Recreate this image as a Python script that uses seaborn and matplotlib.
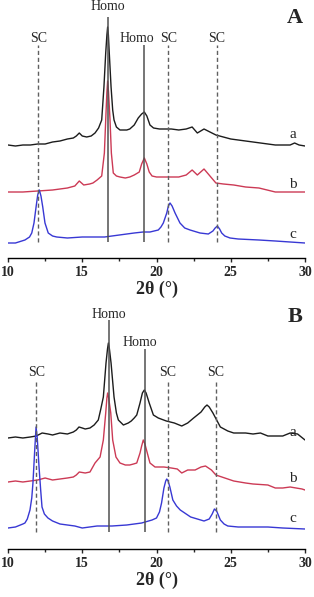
import numpy as np
import matplotlib
matplotlib.use('Agg')
import matplotlib.pyplot as plt
from matplotlib.ticker import MultipleLocator
import seaborn as sns

# ---- panel A: 2theta / intensity (a.u.) ----
A_a_x = [10.0, 10.5, 11.0, 11.5, 12.0, 12.5, 13.0, 13.5, 14.0, 14.4, 14.6, 14.8, 15.0, 15.3,
         15.6, 15.86, 16.1, 16.31, 16.46, 16.58, 16.66, 16.71, 16.76, 16.82, 16.94, 17.05,
         17.14, 17.3, 17.54, 18.0, 18.2, 18.5, 18.77, 19.0, 19.18, 19.35, 19.56, 19.8, 20.2,
         20.6, 21.0, 21.5, 22.0, 22.4, 22.75, 23.2, 23.6, 24.0, 24.5, 25.0, 26.0, 27.0, 28.0,
         29.0, 29.3, 29.6, 30.0]
A_a_y = [0, -1, 0, 0, 1, 1, 3, 4, 6, 7, 9, 12, 9, 8,
         9, 12, 17, 25, 58, 92, 110, 118, 110, 92, 58, 35,
         25, 18, 15, 15, 16, 20, 27, 31, 33, 29, 20, 17, 16,
         16, 16, 15, 16, 18, 12, 16, 13, 10, 8, 6, 4, 2, 0,
         0, 2, 0, -1]

A_b_x = [10.0, 11.0, 12.0, 13.0, 14.0, 14.5, 14.8, 15.1, 15.5, 15.72, 16.0, 16.31, 16.49,
         16.58, 16.66, 16.71, 16.77, 16.87, 16.96, 17.09, 17.3, 17.54, 17.9, 18.2, 18.5,
         18.84, 19.0, 19.18, 19.35, 19.51, 19.7, 20.0, 21.0, 21.5, 22.0, 22.4, 22.75, 23.2,
         23.6, 24.0, 24.5, 25.2, 26.0, 26.9, 28.0, 29.0, 30.0]
A_b_y = [0, 0, 1, 2, 4, 6, 11, 7, 8, 9, 12, 16, 39,
         72, 100, 111, 100, 72, 39, 19, 16, 15, 14, 15, 17,
         20, 28, 34, 28, 20, 16, 15, 15, 15, 17, 22, 17, 23,
         16, 9, 8, 7, 5, 4, 0, 0, 0]

A_c_x = [10.0, 10.5, 11.14, 11.45, 11.6, 11.75, 11.89, 12.0, 12.11, 12.22, 12.34, 12.49,
         12.71, 13.0, 13.28, 14.0, 15.0, 16.5, 17.5, 18.5, 19.1, 19.56, 20.12, 20.3, 20.46,
         20.69, 20.8, 20.91, 21.05, 21.25, 21.58, 21.9, 22.26, 22.93, 23.49, 23.8, 23.95,
         24.1, 24.25, 24.39, 24.6, 24.95, 25.5, 26.9, 28.0, 29.0, 30.0]
A_c_y = [0, 0, 3, 6, 10, 20, 36, 48, 53, 47, 36, 20,
         10, 7, 6, 5, 6, 6, 8, 10, 11, 11, 13, 16, 20,
         30, 37, 40, 37, 30, 20, 15, 13, 10, 9, 12, 15,
         17, 14, 10, 7, 5, 4, 3, 2, 1, 0]

# ---- panel B ----
B_a_x = [10.0, 10.5, 11.0, 11.5, 11.9, 12.3, 12.7, 13.0, 13.5, 14.0, 14.4, 14.6, 14.78,
         15.0, 15.2, 15.52, 15.8, 16.08, 16.25, 16.42, 16.6, 16.7, 16.76, 16.83, 16.94,
         17.14, 17.3, 17.43, 17.77, 18.1, 18.3, 18.5, 18.67, 18.89, 19.05, 19.18, 19.3,
         19.51, 19.79, 20.12, 20.66, 21.2, 21.7, 22.1, 22.5, 23.0, 23.25, 23.4, 23.55, 23.8,
         24.05, 24.3, 24.8, 25.2, 26.0, 26.5, 27.0, 27.5, 28.0, 28.5, 29.0, 29.5, 30.0]
B_a_y = [-1, 0, -1, 0, 1, 4, 3, 2, 4, 3, 5, 7, 10,
         9, 8, 9, 12, 17, 28, 40, 74, 88, 94, 88, 74,
         40, 24, 17, 12, 14, 16, 19, 22, 34, 44, 47, 44,
         34, 22, 19, 16, 14, 11, 14, 19, 25, 30, 32, 30, 24,
         17, 10, 6, 4, 4, 3, 4, 1, 1, 1, 4, 3, -3]

B_b_x = [10.0, 10.5, 11.0, 11.5, 12.0, 12.5, 13.0, 13.5, 14.0, 14.4, 14.6, 14.8, 15.2,
         15.52, 15.86, 16.2, 16.42, 16.58, 16.66, 16.71, 16.78, 16.92, 17.05, 17.27, 17.54,
         17.9, 18.2, 18.45, 18.67, 18.89, 19.0, 19.11, 19.22, 19.38, 19.56, 19.9, 20.5, 21.0,
         21.4, 21.7, 22.1, 22.6, 23.0, 23.3, 23.7, 24.0, 24.6, 25.2, 26.0, 26.5, 27.5, 28.0,
         28.5, 29.0, 29.8, 30.0]
B_b_y = [0, 1, 0, 1, 2, 4, 2, 3, 4, 5, 7, 10, 9,
         10, 19, 25, 42, 69, 84, 89, 84, 69, 42, 25, 19,
         17, 17, 18, 19, 29, 36, 42, 38, 29, 19, 15, 15, 14,
         13, 9, 12, 12, 15, 16, 12, 7, 4, 1, -1, -2, -3, -6,
         -6, -5, -7, -8]

B_c_x = [10.0, 10.5, 11.0, 11.14, 11.3, 11.48, 11.6, 11.68, 11.8, 11.89, 11.97, 12.09, 12.2,
         12.29, 12.45, 12.69, 13.0, 13.5, 14.5, 15.0, 16.0, 17.0, 18.0, 19.0, 19.7, 20.0,
         20.2, 20.34, 20.5, 20.62, 20.69, 20.78, 20.9, 21.1, 21.35, 21.6, 22.3, 23.2, 23.55,
         23.75, 23.9, 24.05, 24.3, 24.55, 24.8, 25.5, 26.5, 27.5, 28.5, 30.0]
B_c_y = [0, 1, 4, 5, 9, 18, 30, 45, 78, 101, 90, 61, 38,
         21, 14, 10, 7, 4, 2, 0, 2, 2, 3, 5, 8, 10,
         16, 25, 40, 47, 49, 47, 41, 28, 22, 18, 11, 7, 9,
         14, 19, 17, 8, 4, 2, 1, 1, 1, 0, -1]

sc_A = [12.05, 20.8, 24.05]
homo_A = [16.72, 19.16]
sc_B = [11.9, 20.75, 24.0]
homo_B = [16.8, 19.2]

curve_labels = ['a', 'b', 'c']
colors = ['#1c1c1c', '#cc3a55', '#3838d4']

sns.set_style('white')
plt.rcParams['font.family'] = ['Liberation Serif', 'DejaVu Serif']

fig = plt.figure(figsize=(3.14, 5.97), dpi=100)
W, H = 314.0, 597.0
axA = fig.add_axes([8 / W, (H - 258) / H, 297 / W, 258 / H])
axB = fig.add_axes([8 / W, (H - 549) / H, 297 / W, 249 / H])


def draw_panel(ax, curves, offsets, sc, homo, homo_tops, homo_lab, sc_top, sc_lab,
               lab_y, letter, letter_y, line_bottom, ytop):
    for (x, y), off, col in zip(curves, offsets, colors):
        sns.lineplot(x=x, y=np.array(y) + off, ax=ax, color=col, lw=1.0,
                     sort=False, estimator=None)
    for p in sc:
        ax.vlines(p, line_bottom, sc_top, colors='#606060', lw=1.0, linestyles=(0, (3, 2)))
        ax.text(p, sc_lab, 'SC', ha='center', va='center', fontsize=10)
    for p, top, (lx, ly) in zip(homo, homo_tops, homo_lab):
        ax.vlines(p, line_bottom, top, colors='#505050', lw=1.1)
        ax.text(lx, ly, 'Homo', ha='center', va='center', fontsize=10)
    for lab, ly in zip(curve_labels, lab_y):
        ax.text(29.2, ly, lab, ha='center', va='center', fontsize=11)
    ax.text(29.3, letter_y, letter, ha='center', va='center', fontsize=16,
            fontweight='bold')
    ax.set_xlim(10, 30)
    ax.set_ylim(0, ytop)
    ax.set_yticks([])
    ax.xaxis.set_major_locator(MultipleLocator(5))
    ax.xaxis.set_minor_locator(MultipleLocator(2.5))
    ax.tick_params(axis='x', which='major', direction='out', length=3, width=1,
                   labelsize=10, pad=3, bottom=True)
    ax.tick_params(axis='x', which='minor', direction='out', length=2, width=1, bottom=True)
    for t in ax.get_xticklabels():
        t.set_fontweight('bold')
    for s in ['top', 'left', 'right']:
        ax.spines[s].set_visible(False)
    ax.spines['bottom'].set_linewidth(1.0)
    ax.spines['bottom'].set_color('black')
    ax.set_xlabel('2θ (°)', fontsize=13, fontweight='bold', labelpad=1)
    ax.set_ylabel('')
    ax.patch.set_alpha(0)


draw_panel(axA, [(A_a_x, A_a_y), (A_b_x, A_b_y), (A_c_x, A_c_y)], [113, 66, 15],
           sc_A, homo_A, [241, 213], [(16.72, 251), (18.7, 220)], 213, 220,
           [123, 73, 23], 'A', 240, 16, 258)
draw_panel(axB, [(B_a_x, B_a_y), (B_b_x, B_b_y), (B_c_x, B_c_y)], [112, 67, 21],
           sc_B, homo_B, [229, 200], [(16.8, 234), (18.9, 206)], 169, 176,
           [117, 71, 31], 'B', 232, 17, 249)

fig.savefig('out.png', dpi=100)
